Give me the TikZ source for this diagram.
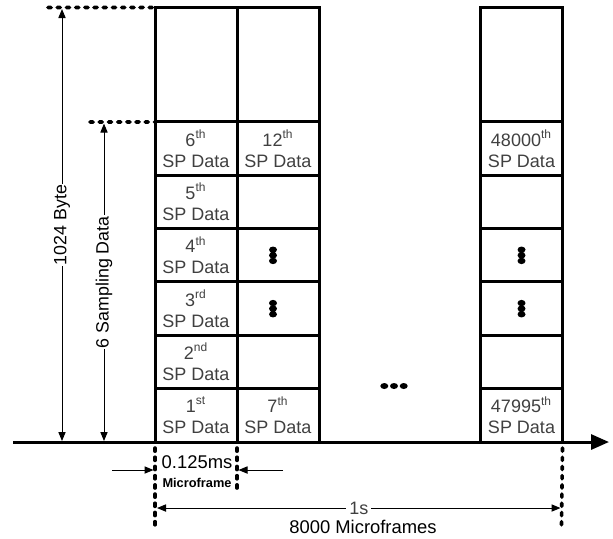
\documentclass[tikz,border=0pt]{standalone}
\usepackage{fontspec}
\setmainfont{Liberation Sans}
\usepackage{xcolor}
\usepackage{tikz}
\usetikzlibrary{arrows.meta,positioning}
\definecolor{celltext}{HTML}{404040}
\newcommand{\vdotz}{\tikz{\fill[black] (0,0) ellipse [x radius=2pt,y radius=1.6pt] (0,2.8pt) ellipse [x radius=2pt,y radius=1.6pt] (0,5.6pt) ellipse [x radius=2pt,y radius=1.6pt];}}
\newcommand{\hdotz}{\tikz{\fill[black] (0,0) ellipse [x radius=2pt,y radius=1.5pt] (4.85pt,0) ellipse [x radius=2pt,y radius=1.5pt] (9.7pt,0) ellipse [x radius=2pt,y radius=1.5pt];}}

\begin{document}
\begin{tikzpicture}[x=0.5pt,y=-0.5pt,
 cell/.style={draw,line width=1.5pt,outer sep=0pt,inner sep=0pt,minimum width=41pt,minimum height=26.67pt,align=center,text=celltext,font=\fontsize{9}{10.5}\selectfont},
 topcell/.style={cell,minimum height=57.25pt},
 arr/.style={-{Triangle[length=4.5pt,width=3.6pt]},line width=0.5pt},
 dimarr/.style={{Triangle[length=4.5pt,width=3.6pt]}-{Triangle[length=4.5pt,width=3.6pt]},line width=0.5pt},
 dotline/.style={line width=1.8pt,line cap=round,dash pattern=on 1.6pt off 3pt},
 lbl/.style={fill=white,inner sep=0.6pt,font=\fontsize{8.9}{10}\selectfont}
]
\useasboundingbox (0,0) rectangle (613,538);
% first microframe
\node[cell,anchor=south west] (a1) at (155,442) {1\textsuperscript{st}\\SP Data};
\node[cell,above=0pt of a1] (a2) {2\textsuperscript{nd}\\SP Data};
\node[cell,above=0pt of a2] (a3) {3\textsuperscript{rd}\\SP Data};
\node[cell,above=0pt of a3] (a4) {4\textsuperscript{th}\\SP Data};
\node[cell,above=0pt of a4] (a5) {5\textsuperscript{th}\\SP Data};
\node[cell,above=0pt of a5] (a6) {6\textsuperscript{th}\\SP Data};
\node[topcell,above=0pt of a6] (a7) {};
% second microframe
\node[cell,right=0pt of a1] (b1) {7\textsuperscript{th}\\SP Data};
\node[cell,above=0pt of b1] (b2) {};
\node[cell,above=0pt of b2] (b3) {\vdotz\hspace*{5pt}};
\node[cell,above=0pt of b3] (b4) {\vdotz\hspace*{5pt}};
\node[cell,above=0pt of b4] (b5) {};
\node[cell,above=0pt of b5] (b6) {12\textsuperscript{th}\\SP Data};
\node[topcell,above=0pt of b6] (b7) {};
% last microframe
\node[cell,anchor=south west] (z1) at (480.5,442) {47995\textsuperscript{th}\\SP Data};
\node[cell,above=0pt of z1] (z2) {};
\node[cell,above=0pt of z2] (z3) {\vdotz};
\node[cell,above=0pt of z3] (z4) {\vdotz};
\node[cell,above=0pt of z4] (z5) {};
\node[cell,above=0pt of z5] (z6) {48000\textsuperscript{th}\\SP Data};
\node[topcell,above=0pt of z6] (z7) {};
\node (gap) at (394,386) {\hdotz};
% time axis
\coordinate (axstart) at (13,442);
\coordinate (axend) at (609,442);
\draw[line width=1.5pt,-{Triangle[length=9pt,width=7.5pt]}] (axstart) -- (axend);
% size of one microframe
\coordinate (dotA) at (48,7.5);
\coordinate (dotB) at (90,122);
\draw[dotline] (dotA) -- (a7.north west);
\draw[dotline] (dotB) -- (a6.north west);
\coordinate (bytetop) at (62,9);
\coordinate (bytebot) at (62,441);
\coordinate (samptop) at (104,123.5);
\coordinate (sampbot) at (104,441);
\draw[dimarr] (bytetop) -- node[lbl,rotate=90] {1024 Byte} (bytebot);
\draw[dimarr] (samptop) -- node[lbl,rotate=90] {6 Sampling Data} (sampbot);
% timing
\coordinate (tick0) at (155,527);
\coordinate (tick1) at (237,490);
\coordinate (tick2) at (561.5,525);
\draw[dotline] ([yshift=-3pt]a1.south west) -- (tick0);
\draw[dotline] ([yshift=-3pt]a1.south east) -- (tick1);
\draw[dotline] ([yshift=-3pt]z1.south east) -- (tick2);
\coordinate (pl) at (112,470);
\coordinate (pltip) at (153.5,470);
\coordinate (pr) at (283,470);
\coordinate (prtip) at (238.5,470);
\draw[arr] (pl) -- (pltip);
\draw[arr] (pr) -- (prtip);
\node[font=\fontsize{9.2}{10}\selectfont] (period) at (197,462) {0.125ms};
\node[font=\bfseries\fontsize{6.4}{7}\selectfont] (mframe) at (197,483) {Microframe};
\coordinate (sl) at (157,508);
\coordinate (sr) at (560.5,508);
\draw[dimarr] (sl) -- node[lbl,text=celltext,inner sep=1.5pt,font=\fontsize{9}{10}\selectfont] {1s} (sr);
\node[font=\fontsize{9.2}{10}\selectfont] (total) at (363,527) {8000 Microframes};
\end{tikzpicture}
\end{document}
